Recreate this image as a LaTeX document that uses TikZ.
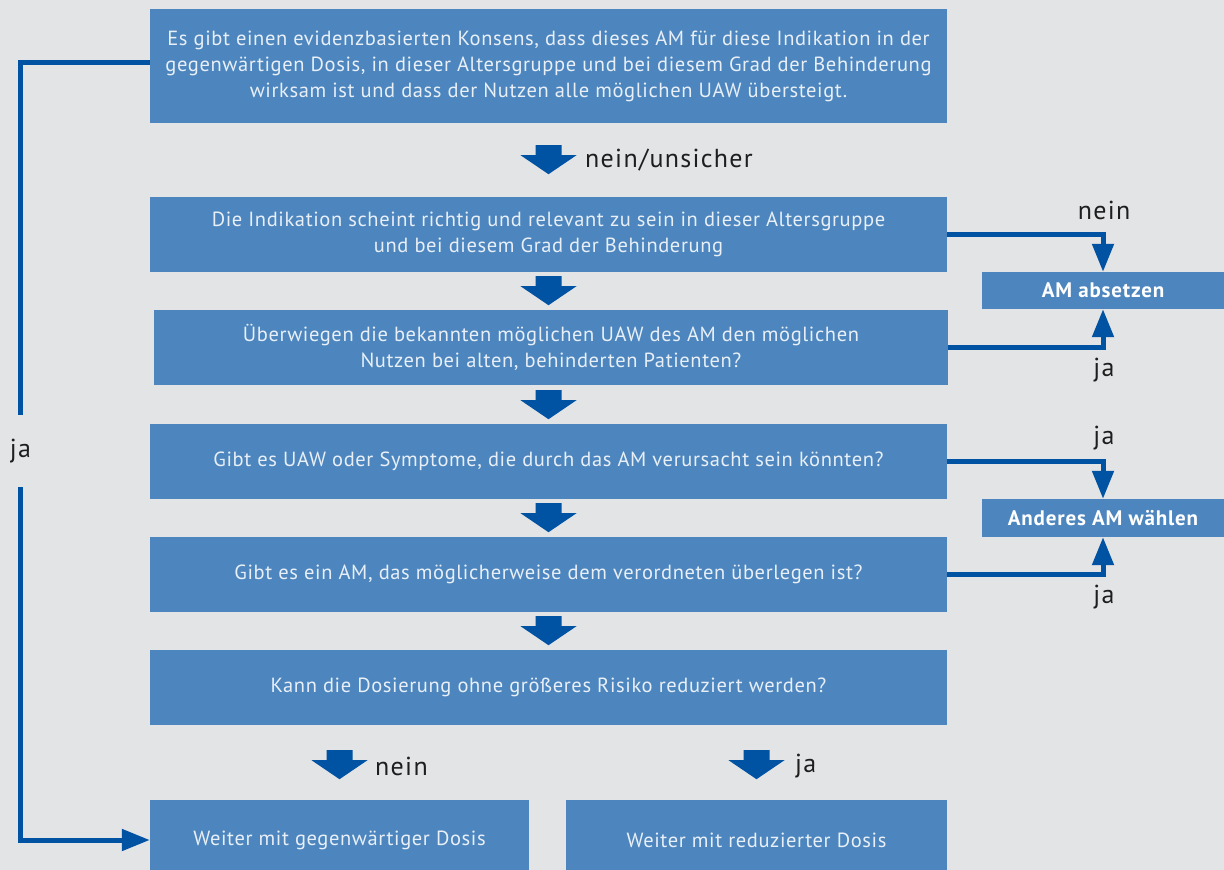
\documentclass[tikz,border=0pt]{standalone}
\usepackage{fontspec}
\setmainfont{PT Sans}
\newfontfamily\boxfont[LetterSpace=3]{PT Sans}
\newfontfamily\lblfont[LetterSpace=5]{PT Sans}
\newfontfamily\smallfont[LetterSpace=4]{PT Sans}
\usetikzlibrary{arrows.meta}
\definecolor{bg}{HTML}{E3E4E6}
\definecolor{boxblue}{HTML}{4D86BE}
\definecolor{arrblue}{HTML}{0052A3}
\definecolor{boxtext}{HTML}{E8EFF7}
\definecolor{labeltext}{HTML}{1E1E1E}
\begin{document}
\begin{tikzpicture}[x=1pt,y=-1pt,
  box/.style={rectangle, fill=boxblue, inner sep=0pt, text=boxtext, align=center,
    font=\boxfont\fontsize{20.5}{26}\selectfont},
  smallbox/.style={rectangle, fill=boxblue, inner sep=0pt, text=white,
    font=\smallfont\fontsize{21}{24}\selectfont\bfseries, minimum width=242pt},
  lbl/.style={text=labeltext, inner sep=0pt, font=\lblfont\fontsize{26}{30}\selectfont},
  conn/.style={draw=arrblue, line width=5pt, -{Triangle[width=21pt,length=28pt]}},
  barrow/.pic={\fill[arrblue] (-13,0) -- (13,0) -- (13,10) -- (28,10) -- (0,29) -- (-28,10) -- (-13,10) -- cycle;}
]
\fill[bg] (0,0) rectangle (1224,870);
\useasboundingbox (0,0) rectangle (1224,870);

\node[box, minimum width=797pt, minimum height=114pt] (b1) at (548.5,66)
  {Es gibt einen evidenzbasierten Konsens, dass dieses AM für diese Indikation in der\\
   gegenwärtigen Dosis, in dieser Altersgruppe und bei diesem Grad der Behinderung\\
   wirksam ist und dass der Nutzen alle möglichen UAW übersteigt.};
\node[box, minimum width=797pt, minimum height=75pt] (b2) at (548.5,234.5)
  {Die Indikation scheint richtig und relevant zu sein in dieser Altersgruppe\\
   und bei diesem Grad der Behinderung};
\node[box, minimum width=794pt, minimum height=75pt] (b3) at (551,347.5)
  {Überwiegen die bekannten möglichen UAW des AM den möglichen\\
   Nutzen bei alten, behinderten Patienten?};
\node[box, minimum width=797pt, minimum height=75pt] (b4) at (548.5,461.5)
  {Gibt es UAW oder Symptome, die durch das AM verursacht sein könnten?};
\node[box, minimum width=797pt, minimum height=75pt] (b5) at (548.5,574.5)
  {Gibt es ein AM, das möglicherweise dem verordneten überlegen ist?};
\node[box, minimum width=797pt, minimum height=75pt] (b6) at (548.5,687.5)
  {Kann die Dosierung ohne größeres Risiko reduziert werden?};
\node[box, minimum width=379pt, minimum height=80pt] (b7) at (339.5,840)
  {Weiter mit gegenwärtiger Dosis};
\node[box, minimum width=381pt, minimum height=80pt] (b8) at (756.5,840)
  {Weiter mit reduzierter Dosis};
\node[smallbox, minimum height=37pt] (ab) at (1103,290.5) {AM absetzen};
\node[smallbox, minimum height=38pt] (aw) at (1103,518) {Anderes AM wählen};

% block arrows
\pic at ([yshift=-22pt]b1.south) {barrow};
\pic at ([yshift=-4pt]b2.south) {barrow};
\pic at ([yshift=-5pt]b3.south -| b2.south) {barrow};
\pic at ([yshift=-4pt]b4.south) {barrow};
\pic at ([yshift=-4pt]b5.south) {barrow};
\pic at ([yshift=-25pt]b6.south -| b7.north) {barrow};
\pic at ([yshift=-25pt]b6.south -| b8.north) {barrow};

\node[lbl, anchor=west] (l0) at (585,160) {nein/unsicher};
\node[lbl, anchor=west] (l7) at (375,766) {nein};
\node[lbl, anchor=west] (l8) at (795,766) {ja};

% right connectors
\draw[conn] (b2.east) -| (ab.north);
\draw[conn] (b3.east) -| (ab.south);
\draw[conn] (b4.east) -| (aw.north);
\draw[conn] (b5.east) -| (aw.south);
\node[lbl] (ln1) at (1104,210) {nein};
\node[lbl] (lj1) at (1104,370) {ja};
\node[lbl] (lj2) at (1104,438) {ja};
\node[lbl] (lj3) at (1104,597) {ja};

% left loop
\coordinate (c1) at (20.5,62.5);
\coordinate (c2) at (20.5,840);
\draw[conn] ([yshift=3.5pt]b1.west) -- (c1) -- node[lbl, fill=bg, minimum height=72pt, minimum width=30pt] (lja) {ja} (c2) -- (b7.west);
\end{tikzpicture}
\end{document}
